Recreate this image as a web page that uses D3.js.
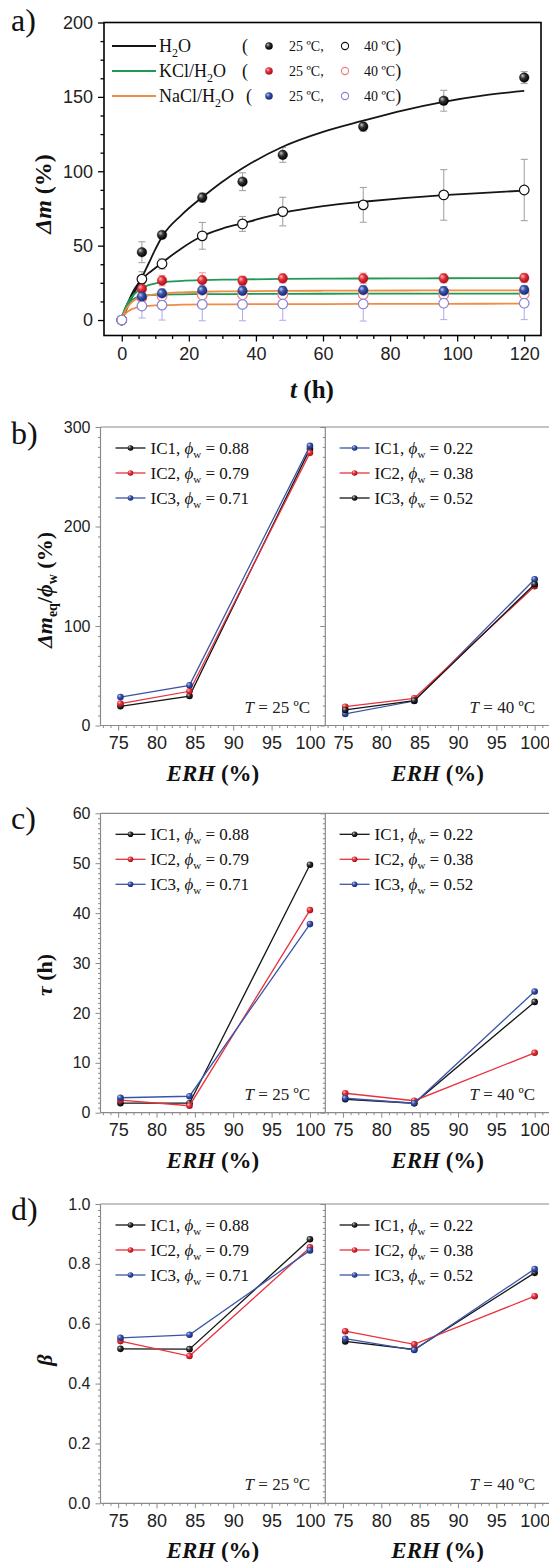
<!DOCTYPE html>
<html>
<head>
<meta charset="utf-8">
<script src="https://cdn.jsdelivr.net/npm/d3@7"></script>
<style>
body { margin: 0; background: #fff; }
svg { display: block; }
</style>
</head>
<body>
<svg id="chart" width="549" height="1562"></svg>
<script>
// ---- panel a: mass gain vs time ----
var times = [0, 6, 12, 24, 36, 48, 72, 96, 120]
var h2o25 = [0, 45.6, 57.2, 82.3, 93, 111, 130, 147.4, 163]
var h2o25Err = [0, 7, 2, 3, 6, 5, 3, 7, 4]
var h2o40 = [0, 27.5, 37.8, 56.6, 64.6, 72.9, 77.4, 84.1, 87.4]
var h2o40Err = [0, 5, 3.5, 9, 5, 9.6, 11.7, 17, 20.6]
var kcl25 = [0, 21, 26.5, 26.8, 26.4, 28, 28, 28, 28.3]
var kcl25Err = [0, 3, 3.5, 5, 3, 3, 3.5, 3, 3]
var kcl40 = [0, 15, 16, 16.8, 17, 17, 17.2, 17, 17.3]
var kcl40Err = [0, 4, 4, 4, 4, 4, 4, 4, 4]
var nacl25 = [0, 15.7, 17.9, 19.9, 19.6, 19.6, 20.1, 19.4, 20.2]
var nacl25Err = [0, 3, 3, 3, 3, 3, 3, 3, 3]
var nacl40 = [0, 9.4, 10, 10.5, 10.5, 10.8, 10.8, 11.3, 11.3]
var nacl40Err = [0, 8, 10, 11, 11, 11, 11.5, 11, 11]

// fitted curves
var fitTimes = [0, 0.5, 1, 2, 3, 4, 6, 8, 10, 12, 18, 24, 30, 36, 48, 60, 72, 84, 96, 108, 120]
var h2o25Fit = [0, 2.5, 5, 10, 15, 19.5, 28.5, 38, 47.5, 56, 71, 82.5, 93, 102, 116.5, 126.5, 134, 141, 146.7, 151, 154]
var h2o40Fit = [0, 3.5, 7, 12.5, 17.5, 21.5, 27.5, 31.5, 35, 38.5, 48.5, 56.5, 61.5, 65, 72, 76.5, 79.5, 82, 84, 85.5, 87]
var kcl25Fit = [0, 5, 8, 12.5, 15.5, 18, 21.5, 23.5, 24.6, 25.3, 26.3, 26.8, 27.1, 27.3, 27.6, 27.8, 27.9, 28, 28.1, 28.15, 28.2]
var kcl40Fit = [0, 4.5, 7.5, 11, 13.3, 14.8, 16.2, 16.7, 17, 17.1, 17.3, 17.4, 17.45, 17.5, 17.6, 17.65, 17.7, 17.75, 17.8, 17.8, 17.8]
var nacl25Fit = [0, 3.5, 6, 9.5, 12, 13.6, 15.5, 16.6, 17.3, 17.8, 18.6, 19, 19.2, 19.4, 19.6, 19.7, 19.8, 19.85, 19.9, 19.95, 20]
var nacl40Fit = [0, 2.5, 4, 6, 7.3, 8.1, 9, 9.5, 9.8, 10, 10.3, 10.5, 10.55, 10.6, 10.7, 10.75, 10.8, 10.85, 10.9, 10.95, 11]

var tMajor = [0, 20, 40, 60, 80, 100, 120]
var mMajor = [0, 50, 100, 150, 200]

// ---- panels b-d: vs ERH ----
var erh = [75.3, 84.3, 100]
var erhTicks = [75, 80, 85, 90, 95, 100]
var icNames = ["IC1", "IC2", "IC3"]
var phi25 = ["0.88", "0.79", "0.71"]
var phi40 = ["0.22", "0.38", "0.52"]

var bLeft = [[19.3, 29.6, 278], [22, 34.4, 274], [28.6, 40.4, 281]]
var bRight = [[11.6, 24.6, 147], [18.9, 27.3, 140], [15.6, 25, 142]]
var cLeft = [[1.9, 1.9, 49.7], [2.5, 1.4, 40.6], [3.0, 3.3, 37.8]]
var cRight = [[2.7, 1.9, 22.2], [3.9, 2.4, 12.0], [2.9, 1.9, 24.3]]
var dLeft = [[0.516, 0.515, 0.882], [0.542, 0.492, 0.855], [0.553, 0.563, 0.845]]
var dRight = [[0.541, 0.514, 0.77], [0.575, 0.531, 0.692], [0.55, 0.512, 0.783]]

var bTicks = [0, 100, 200, 300]
var cTicks = [0, 10, 20, 30, 40, 50, 60]
var dTicks = [0, 0.2, 0.4, 0.6, 0.8, 1.0]

var col = { black: "#151515", red: "#e8323c", blue: "#3a55a8", green: "#1e9a55", orange: "#f28c45", purple: "#8a80d8" }

var svg = d3.select("#chart")
var serif = "'Liberation Serif', 'Times New Roman', serif"
var sans = "'Liberation Sans', Arial, sans-serif"

// sphere gradients
var defs = svg.append("defs")
function sphere(id, hi, mid, lo) {
    var g = defs.append("radialGradient").attr("id", id)
        .attr("cx", "40%").attr("cy", "40%").attr("r", "60%").attr("fx", "32%").attr("fy", "30%")
    g.append("stop").attr("offset", "0%").attr("stop-color", hi)
    g.append("stop").attr("offset", "45%").attr("stop-color", mid)
    g.append("stop").attr("offset", "100%").attr("stop-color", lo)
}
sphere("sph-black", "#c8c8c8", "#333", "#000")
sphere("sph-red", "#ffc0c0", "#e8323c", "#a0101a")
sphere("sph-blue", "#c0cbff", "#3a55a8", "#172870")

function styleAxis(g, color, fontSize, family) {
    g.select(".domain").remove()
    g.selectAll("line").attr("stroke", color)
    g.selectAll("text").attr("fill", "#222").style("font-size", fontSize + "px").style("font-family", family)
}

function minorValues(lo, hi, step, majors) {
    var out = []
    for (var v = Math.ceil(lo / step) * step; v <= hi + 1e-9; v += step) {
        var r = Math.round(v * 1000) / 1000
        if (!majors.some(function(m) { return Math.abs(m - r) < 1e-6 })) out.push(r)
    }
    return out
}

// =================== panel a ===================
var ax = d3.scaleLinear().domain([-5.3, 125]).range([104, 541])
var ay = d3.scaleLinear().domain([-10.4, 200]).range([335.5, 22.5])

var pa = svg.append("g")

var gax = pa.append("g").attr("transform", "translate(0," + ay.range()[0] + ")")
    .call(d3.axisBottom(ax).tickValues(tMajor).tickSize(6).tickPadding(6))
styleAxis(gax, "#000", 18, sans)
var gaxm = pa.append("g").attr("transform", "translate(0," + ay.range()[0] + ")")
    .call(d3.axisBottom(ax).tickValues(minorValues(0, 120, 5, tMajor)).tickSize(3.5).tickFormat(""))
styleAxis(gaxm, "#000", 18, sans)

var gay = pa.append("g").attr("transform", "translate(" + ax.range()[0] + ",0)")
    .call(d3.axisLeft(ay).tickValues(mMajor).tickSize(6).tickPadding(5))
styleAxis(gay, "#000", 18, sans)
var gaym = pa.append("g").attr("transform", "translate(" + ax.range()[0] + ",0)")
    .call(d3.axisLeft(ay).tickValues(minorValues(-10, 200, 12.5, mMajor)).tickSize(3.5).tickFormat(""))
styleAxis(gaym, "#000", 18, sans)
pa.selectAll(".tick line").attr("stroke-width", 1.3)

pa.append("rect").attr("x", ax.range()[0]).attr("y", ay.range()[1])
    .attr("width", ax.range()[1] - ax.range()[0]).attr("height", ay.range()[0] - ay.range()[1])
    .attr("fill", "none").attr("stroke", "#000").attr("stroke-width", 1.6)

var seriesA = [
    { v: h2o25, e: h2o25Err, fit: h2o25Fit, line: col.black, errc: "#a5a5a5", fill: "url(#sph-black)", open: false, stroke: "#000" },
    { v: h2o40, e: h2o40Err, fit: h2o40Fit, line: col.black, errc: "#a5a5a5", fill: "#fff", open: true, stroke: "#111" },
    { v: kcl25, e: kcl25Err, fit: kcl25Fit, line: col.green, errc: "#f2a0a4", fill: "url(#sph-red)", open: false, stroke: "#c01c26" },
    { v: kcl40, e: kcl40Err, fit: kcl40Fit, line: col.green, errc: "#f2b4b6", fill: "#fff", open: true, stroke: "#ec7a80" },
    { v: nacl25, e: nacl25Err, fit: nacl25Fit, line: col.orange, errc: "#a8b2e2", fill: "url(#sph-blue)", open: false, stroke: "#1e3080" },
    { v: nacl40, e: nacl40Err, fit: nacl40Fit, line: col.orange, errc: "#b4b0ec", fill: "#fff", open: true, stroke: col.purple }
]

// error bars
seriesA.forEach(function(s) {
    var eg = pa.append("g").attr("stroke", s.errc).attr("stroke-width", 1.1)
    times.forEach(function(t, i) {
        if (!s.e[i]) return
        var x = ax(t), y1 = ay(s.v[i] + s.e[i]), y2 = ay(s.v[i] - s.e[i])
        eg.append("line").attr("x1", x).attr("x2", x).attr("y1", y1).attr("y2", y2)
        eg.append("line").attr("x1", x - 3.5).attr("x2", x + 3.5).attr("y1", y1).attr("y2", y1)
        eg.append("line").attr("x1", x - 3.5).attr("x2", x + 3.5).attr("y1", y2).attr("y2", y2)
    })
})

// fit curves
var fitLine = d3.line().x(function(d) { return ax(d[0]) }).y(function(d) { return ay(d[1]) }).curve(d3.curveMonotoneX)
seriesA.forEach(function(s) {
    pa.append("path").datum(fitTimes.map(function(t, i) { return [t, s.fit[i]] }))
        .attr("d", fitLine).attr("fill", "none").attr("stroke", s.line).attr("stroke-width", 1.8)
})

// markers
seriesA.forEach(function(s) {
    pa.append("g").selectAll("circle").data(times.map(function(t, i) { return [t, s.v[i]] }))
        .enter().append("circle")
        .attr("cx", function(d) { return ax(d[0]) }).attr("cy", function(d) { return ay(d[1]) })
        .attr("r", 4.8).attr("fill", s.fill).attr("stroke", s.stroke).attr("stroke-width", s.open ? 1.2 : 0.4)
})

// legend a
var legA = [
    { name: "H", sub: "2", tail: "O", line: col.black, fill: "url(#sph-black)", fs: "#000", os: "#111", paren: 242 },
    { name: "KCl/H", sub: "2", tail: "O", line: col.green, fill: "url(#sph-red)", fs: "#c01c26", os: "#ec7a80", paren: 242 },
    { name: "NaCl/H", sub: "2", tail: "O", line: col.orange, fill: "url(#sph-blue)", fs: "#1e3080", os: col.purple, paren: 246 }
]
legA.forEach(function(l, i) {
    var y = 46 + i * 25
    pa.append("line").attr("x1", 112).attr("x2", 156).attr("y1", y).attr("y2", y).attr("stroke", l.line).attr("stroke-width", 1.8)
    var t = pa.append("text").attr("x", 159).attr("y", y + 6).style("font-family", serif).style("font-size", "18px").attr("fill", "#111")
    t.append("tspan").text(l.name)
    t.append("tspan").attr("dy", 5).style("font-size", "12px").text(l.sub)
    t.append("tspan").attr("dy", -5).text(l.tail)
    pa.append("text").attr("x", l.paren).attr("y", y + 6).style("font-family", serif).style("font-size", "18px").attr("fill", "#111").text("(")
    pa.append("circle").attr("cx", 269).attr("cy", y).attr("r", 3.6).attr("fill", l.fill).attr("stroke", l.fs).attr("stroke-width", 0.4)
    pa.append("text").attr("x", 289).attr("y", y + 5).style("font-family", serif).style("font-size", "14px").attr("fill", "#111").text("25 ºC,")
    pa.append("circle").attr("cx", 345).attr("cy", y).attr("r", 3.6).attr("fill", "#fff").attr("stroke", l.os).attr("stroke-width", 1.1)
    var t2 = pa.append("text").attr("x", 364).attr("y", y + 5).style("font-family", serif).style("font-size", "14px").attr("fill", "#111")
    t2.append("tspan").text("40 ºC")
    t2.append("tspan").style("font-size", "18px").attr("dy", 1).text(")")
})

// titles a
pa.append("text").attr("x", 11).attr("y", 31).style("font-family", serif).style("font-size", "32px").attr("fill", "#111").text("a)")
var ta = pa.append("text").attr("transform", "translate(51,194) rotate(-90)").attr("text-anchor", "middle")
    .style("font-family", serif).style("font-size", "24px").style("font-weight", "bold").attr("fill", "#111")
ta.append("tspan").style("font-style", "italic").text("Δm")
ta.append("tspan").text(" (%)")
var txa = pa.append("text").attr("x", 312).attr("y", 398).attr("text-anchor", "middle")
    .style("font-family", serif).style("font-size", "25px").style("font-weight", "bold").attr("fill", "#111")
txa.append("tspan").style("font-style", "italic").text("t")
txa.append("tspan").text(" (h)")

// =================== panels b-d ===================
var xL = d3.scaleLinear().domain([72.7, 102]).range([100.5, 325.3])
var xR = d3.scaleLinear().domain([72.7, 102]).range([325.3, 550])
var gray = "#8a8a8a"

function erhPanel(p) {
    var g = svg.append("g")
    var y = d3.scaleLinear().domain(p.domain).range([p.bottom, p.top])
    var fmt = p.fmt

    ;[xL, xR].forEach(function(x, k) {
        var gx = g.append("g").attr("transform", "translate(0," + p.bottom + ")")
            .call(d3.axisBottom(x).tickValues(erhTicks).tickSize(5).tickPadding(6))
        styleAxis(gx, gray, 18, sans)
        var gxm = g.append("g").attr("transform", "translate(0," + p.bottom + ")")
            .call(d3.axisBottom(x).tickValues(minorValues(73, 101, 1, erhTicks)).tickSize(2.5).tickFormat(""))
        styleAxis(gxm, gray, 18, sans)

        var gy = g.append("g").attr("transform", "translate(" + x.range()[0] + ",0)")
            .call(d3.axisLeft(y).tickValues(p.ticks).tickSize(5).tickPadding(5).tickFormat(k === 0 ? fmt : ""))
        styleAxis(gy, gray, 16, sans)
        var gym = g.append("g").attr("transform", "translate(" + x.range()[0] + ",0)")
            .call(d3.axisLeft(y).tickValues(minorValues(p.domain[0], p.domain[1], p.minor, p.ticks)).tickSize(2.5).tickFormat(""))
        styleAxis(gym, gray, 16, sans)
    })

    // frame lines
    g.append("line").attr("x1", 100.5).attr("x2", 549).attr("y1", p.top).attr("y2", p.top).attr("stroke", gray).attr("stroke-width", 1.2)
    g.append("line").attr("x1", 100.5).attr("x2", 549).attr("y1", p.bottom).attr("y2", p.bottom).attr("stroke", gray).attr("stroke-width", 1.2)
    ;[100.5, 325.3].forEach(function(xx) {
        g.append("line").attr("x1", xx).attr("x2", xx).attr("y1", p.top).attr("y2", p.bottom).attr("stroke", gray).attr("stroke-width", 1.2)
    })

    var line = d3.line()
    ;[{ x: xL, data: p.left, colors: p.leftColors, phis: phi25, lx: 115.5, temp: "25", tx: 310 },
      { x: xR, data: p.right, colors: p.rightColors, phis: phi40, lx: 339.6, temp: "40", tx: 535 }].forEach(function(side) {
        side.data.forEach(function(vals, i) {
            var c = side.colors[i]
            var pts = erh.map(function(e, j) { return [side.x(e), y(vals[j])] })
            g.append("path").attr("d", line(pts)).attr("fill", "none").attr("stroke", col[c]).attr("stroke-width", 1.3)
            g.append("g").selectAll("circle").data(pts).enter().append("circle")
                .attr("cx", function(d) { return d[0] }).attr("cy", function(d) { return d[1] })
                .attr("r", 3.3).attr("fill", "url(#sph-" + c + ")")
        })
        // legend
        side.colors.forEach(function(c, i) {
            var ly = p.top + 21 + i * 25
            g.append("line").attr("x1", side.lx).attr("x2", side.lx + 30).attr("y1", ly).attr("y2", ly).attr("stroke", col[c]).attr("stroke-width", 1.3)
            g.append("circle").attr("cx", side.lx + 15).attr("cy", ly).attr("r", 2.8).attr("fill", "url(#sph-" + c + ")")
            var t = g.append("text").attr("x", side.lx + 35).attr("y", ly + 6)
                .style("font-family", serif).style("font-size", "17px").attr("fill", "#111")
            t.append("tspan").text(icNames[i] + ", ")
            t.append("tspan").style("font-style", "italic").text("ϕ")
            t.append("tspan").attr("dy", 4).style("font-size", "11px").text("w")
            t.append("tspan").attr("dy", -4).text(" = " + side.phis[i])
        })
        var tt = g.append("text").attr("x", side.tx).attr("y", p.bottom - 13).attr("text-anchor", "end")
            .style("font-family", serif).style("font-size", "17px").attr("fill", "#222")
        tt.append("tspan").style("font-style", "italic").text("T")
        tt.append("tspan").text(" = " + side.temp + " ºC")

        var xt = g.append("text").attr("x", (side.x.range()[0] + side.x.range()[1]) / 2).attr("y", p.bottom + 55)
            .attr("text-anchor", "middle").style("font-family", serif).style("font-size", "23px").style("font-weight", "bold").attr("fill", "#111")
        xt.append("tspan").style("font-style", "italic").text("ERH")
        xt.append("tspan").text(" (%)")
    })

    g.append("text").attr("x", 11).attr("y", p.letterY).style("font-family", serif).style("font-size", "32px").attr("fill", "#111").text(p.letter)
    var yt = g.append("text").attr("transform", "translate(" + p.titleX + "," + p.titleY + ") rotate(-90)").attr("text-anchor", "middle")
        .style("font-family", serif).style("font-size", "22px").style("font-weight", "bold").attr("fill", "#111")
    p.title(yt)
}

erhPanel({
    top: 427, bottom: 725.5, domain: [0, 300], ticks: bTicks, minor: 10, fmt: d3.format("d"),
    left: bLeft, right: bRight, leftColors: ["black", "red", "blue"], rightColors: ["blue", "red", "black"],
    letter: "b)", letterY: 444, titleX: 52, titleY: 590,
    title: function(t) {
        t.append("tspan").style("font-style", "italic").text("Δm")
        t.append("tspan").attr("dy", 5).style("font-size", "14px").text("eq")
        t.append("tspan").attr("dy", -5).text("/")
        t.append("tspan").style("font-style", "italic").text("ϕ")
        t.append("tspan").attr("dy", 5).style("font-size", "14px").text("w")
        t.append("tspan").attr("dy", -5).text(" (%)")
    }
})
erhPanel({
    top: 813.3, bottom: 1112.7, domain: [0, 60], ticks: cTicks, minor: 1, fmt: d3.format("d"),
    left: cLeft, right: cRight, leftColors: ["black", "red", "blue"], rightColors: ["black", "red", "blue"],
    letter: "c)", letterY: 829, titleX: 52, titleY: 975,
    title: function(t) {
        t.append("tspan").style("font-style", "italic").text("τ")
        t.append("tspan").text(" (h)")
    }
})
erhPanel({
    top: 1204, bottom: 1503.3, domain: [0, 1], ticks: dTicks, minor: 0.02, fmt: d3.format(".1f"),
    left: dLeft, right: dRight, leftColors: ["black", "red", "blue"], rightColors: ["black", "red", "blue"],
    letter: "d)", letterY: 1220, titleX: 52, titleY: 1360,
    title: function(t) {
        t.append("tspan").style("font-style", "italic").text("β")
    }
})
</script>
</body>
</html>
